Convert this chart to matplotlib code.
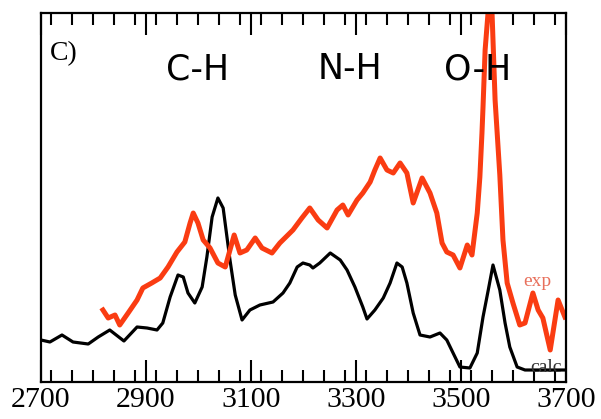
import matplotlib.pyplot as plt
from matplotlib.ticker import MultipleLocator

# calculated spectrum (wavenumber, intensity in arbitrary units)
calc_x = [2700, 2717, 2740, 2761, 2790, 2809, 2831, 2858, 2883, 2902, 2921, 2932,
          2946, 2961, 2971, 2980, 2993, 3007, 3016, 3026, 3037, 3047, 3060, 3070,
          3083, 3098, 3117, 3142, 3161, 3174, 3188, 3199, 3212, 3218, 3231, 3251,
          3270, 3283, 3298, 3313, 3321, 3336, 3352, 3365, 3378, 3388, 3397, 3409,
          3422, 3441, 3460, 3473, 3485, 3498, 3517, 3531, 3542, 3552, 3561, 3574,
          3584, 3593, 3607, 3622, 3700]
calc_y = [42, 40, 47, 40, 38, 45, 52, 41, 55, 54, 52, 59,
          85, 107, 105, 89, 79, 95, 125, 165, 184, 174, 122, 87,
          62, 72, 77, 80, 89, 99, 115, 119, 117, 114, 119, 129,
          122, 112, 95, 75, 63, 72, 84, 99, 119, 115, 99, 69,
          47, 45, 49, 42, 29, 15, 14, 29, 65, 92, 117, 92,
          59, 35, 15, 12, 12]

# experimental spectrum
exp_x = [2818, 2828, 2841, 2850, 2866, 2883, 2894, 2911, 2927, 2942, 2959, 2974,
         2984, 2990, 2999, 3009, 3022, 3037, 3051, 3060, 3068, 3079, 3092, 3108,
         3121, 3140, 3155, 3180, 3197, 3212, 3228, 3245, 3264, 3275, 3285, 3302,
         3313, 3327, 3336, 3346, 3359, 3371, 3384, 3397, 3409, 3426, 3441, 3454,
         3464, 3473, 3485, 3498, 3512, 3521, 3531, 3536, 3540, 3542, 3546, 3552,
         3559, 3565, 3574, 3580, 3588, 3599, 3612, 3622, 3637, 3647, 3656, 3670,
         3679, 3685, 3698]
exp_y = [72, 64, 67, 57, 69, 82, 94, 99, 104, 115, 130, 140,
         159, 169, 159, 142, 134, 119, 115, 132, 147, 129, 132, 144,
         134, 129, 139, 152, 164, 174, 162, 154, 172, 177, 167, 182,
         189, 200, 212, 224, 212, 209, 219, 209, 179, 204, 189, 169,
         139, 130, 127, 114, 137, 127, 169, 205, 249, 275, 332, 372,
         372, 282, 207, 142, 99, 79, 57, 59, 89, 72, 64, 32,
         62, 82, 65]

major_ticks = [2700, 2900, 3100, 3300, 3500, 3700]
bond_labels = ["C-H", "N-H", "O-H"]
bond_pos = [2999, 3289, 3532]

fig = plt.figure(figsize=(6.01, 4.19), dpi=100)
ax = fig.add_axes([0.0682, 0.0883, 0.8735, 0.8807])

ax.plot(calc_x, calc_y, color='black', linewidth=2.3, solid_joinstyle='round')
ax.plot(exp_x, exp_y, color='#fa3c12', linewidth=3.6, solid_joinstyle='round')

ax.set_xlim(2700, 3700)
ax.set_ylim(0, 369)
ax.set_xticks(major_ticks)
ax.xaxis.set_minor_locator(MultipleLocator(40))
ax.tick_params(axis='x', which='both', direction='in', top=True, bottom=True, width=1.5)
ax.tick_params(axis='x', which='major', length=16, pad=3.5)
ax.tick_params(axis='x', which='minor', length=8.5)
ax.tick_params(axis='y', left=False, labelleft=False)
for lab in ax.get_xticklabels():
    lab.set_fontfamily('Liberation Serif')
    lab.set_fontsize(21.5)
for sp in ax.spines.values():
    sp.set_linewidth(1.6)

ax.text(0.017, 0.89, "C)", transform=ax.transAxes, family='Liberation Serif',
        fontsize=20, ha='left', va='center')
for lab, xp in zip(bond_labels, bond_pos):
    ax.text(xp, 0.848, lab, transform=ax.get_xaxis_transform(), family='DejaVu Sans',
            fontsize=25, ha='center', va='center')

ax.text(3645, 100, "exp", color='#e8705c', family='Liberation Serif', fontsize=14,
        ha='center', va='center')
ax.text(3662, 15, "calc", color='#333333', family='Liberation Serif', fontsize=14,
        ha='center', va='center')

plt.savefig('out.png', dpi=100)
